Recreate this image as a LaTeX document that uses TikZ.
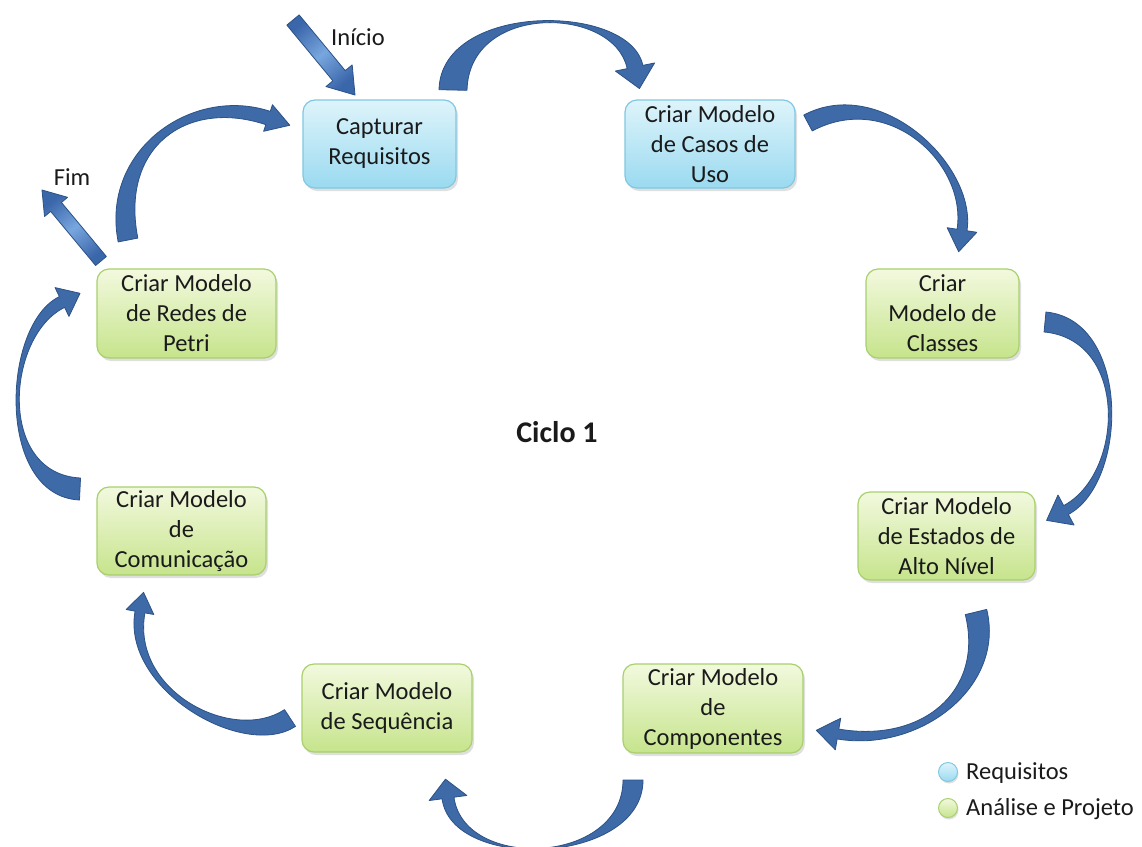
\documentclass[tikz,border=0pt]{standalone}
\usepackage{fontspec}
\setmainfont{Carlito}
\usetikzlibrary{calc,shadows}

\definecolor{arrowblue}{RGB}{62,106,168}
\definecolor{arrowedge}{RGB}{44,82,134}
\definecolor{stlight}{RGB}{120,166,222}
\definecolor{stdark}{RGB}{58,102,170}
\definecolor{reqtop}{RGB}{222,244,251}
\definecolor{reqbot}{RGB}{154,218,240}
\definecolor{reqedge}{RGB}{128,200,226}
\definecolor{anatop}{RGB}{242,249,222}
\definecolor{anabot}{RGB}{198,228,140}
\definecolor{anaedge}{RGB}{168,208,108}
\definecolor{ink}{RGB}{26,26,26}

% Curved block arrow with a tapering band.
% #1 tail centre, #2 first control, #3 second control, #4 head base centre,
% #5 half width at tail, #6 half width at head, #7 head half width, #8 head length
\newcommand\bandarrow[8]{%
  \path[bandstyle]
    ($#1!#5pt!90:#2$) .. controls ($#2!#5pt!-90:#1$) and ($#3!#6pt!90:#4$) .. ($#4!#6pt!-90:#3$)
    -- ($#4!#7pt!-90:#3$) -- ($#4!#8pt!180:#3$) -- ($#4!#7pt!90:#3$)
    -- ($#4!#6pt!90:#3$) .. controls ($#3!#6pt!-90:#4$) and ($#2!#5pt!90:#1$) .. ($#1!#5pt!-90:#2$)
    -- cycle;}

% Straight block arrow: #1 tail, #2 tip, #3 shaft half width, #4 head half width,
% #5 head length, #6 shading angle
\newcommand\straightblock[6]{%
  \coordinate (hb) at ($#2!#5pt!#1$);
  \path[straightstyle, shading angle=#6]
    ($#1!#3pt!90:#2$) -- ($(hb)!#3pt!90:#2$) -- ($(hb)!#4pt!90:#2$) -- #2
    -- ($(hb)!#4pt!-90:#2$) -- ($(hb)!#3pt!-90:#2$) -- ($#1!#3pt!-90:#2$) -- cycle;}

\tikzset{
  bandstyle/.style={fill=arrowblue, draw=arrowedge, line width=0.8pt, line join=round},
  straightstyle/.style={left color=stdark, right color=stdark, middle color=stlight,
    draw=arrowedge, line width=0.8pt, line join=round},
  boxbase/.style={rectangle, rounded corners=12pt, line width=1.2pt, align=center,
    text=ink, inner sep=0pt, font=\fontsize{24.5}{30}\selectfont,
    drop shadow={shadow xshift=2pt, shadow yshift=-3pt, opacity=0.25}},
  reqbox/.style={boxbase, draw=reqedge, top color=reqtop, bottom color=reqbot},
  anabox/.style={boxbase, draw=anaedge, top color=anatop, bottom color=anabot},
  label/.style={text=ink, inner sep=0pt, font=\fontsize{24.5}{30}\selectfont},
  dotreq/.style={circle, minimum size=19pt, inner sep=0pt, draw=reqedge, line width=1pt,
    top color=reqtop, bottom color=reqbot,
    drop shadow={shadow xshift=1pt, shadow yshift=-2pt, opacity=0.25}},
  dotana/.style={circle, minimum size=19pt, inner sep=0pt, draw=anaedge, line width=1pt,
    top color=anatop, bottom color=anabot,
    drop shadow={shadow xshift=1pt, shadow yshift=-2pt, opacity=0.25}}
}

\begin{document}
\begin{tikzpicture}[x=1pt, y=-1pt]
\useasboundingbox[fill=white] (0,0) rectangle (1142,846);

% process steps
\node[reqbox, minimum width=153pt, minimum height=88pt] (cap)  at (379.5,144) {Capturar\\Requisitos};
\node[reqbox, minimum width=170pt, minimum height=88pt] (uso)  at (710,144)   {Criar Modelo\\de Casos de\\Uso};
\node[anabox, minimum width=153pt, minimum height=89pt] (cla)  at (942.5,313.5) {Criar\\Modelo de\\Classes};
\node[anabox, minimum width=177pt, minimum height=88pt] (est)  at (946.5,536) {Criar Modelo\\de Estados de\\Alto Nível};
\node[anabox, minimum width=180pt, minimum height=89pt] (cmp)  at (713,708.5) {Criar Modelo\\de\\Componentes};
\node[anabox, minimum width=170pt, minimum height=88pt] (seq)  at (387,708)   {Criar Modelo\\de Sequência};
\node[anabox, minimum width=169pt, minimum height=88pt] (comu) at (181.5,531) {Criar Modelo\\de\\Comunicação};
\node[anabox, minimum width=179pt, minimum height=89pt] (pet)  at (186.5,313.5) {Criar Modelo\\de Redes de\\Petri};

% cycle arrows
\bandarrow{(453,90)}{(455,2)}{(622,4)}{(635,67)}{14}{8}{20}{22}
\bandarrow{(808,123)}{(885,82)}{(972,165)}{(962,230)}{9}{5}{15}{22}
\bandarrow{(1045,322)}{(1130,330)}{(1126,478)}{(1066,510)}{10}{5}{17}{22}
\bandarrow{(976,612)}{(995,690)}{(920,748)}{(838,734)}{11}{5}{16}{22}
\bandarrow{(633,780)}{(633,865)}{(458,872)}{(448,798)}{10}{6}{19}{19}
\bandarrow{(290,718)}{(238,752)}{(126,690)}{(140,612)}{10}{5}{14}{20}
\bandarrow{(80,489)}{(-4,485)}{(4,330)}{(62,302)}{11}{6}{16}{20}
\bandarrow{(128,240)}{(110,148)}{(190,92)}{(268,118)}{10}{7}{14}{23}

% start and end arrows
\straightblock{(293,20)}{(355,95)}{8}{17}{25}{41}
\straightblock{(101,261)}{(42,190)}{7}{15}{22}{39}
\node[label] (ini) at (358,37) {Início};
\node[label] (fim) at (72,177) {Fim};

% centre title
\node[text=ink, inner sep=0pt, font=\bfseries\fontsize{30}{36}\selectfont] (ciclo) at (557,432) {Ciclo 1};

% legend
\node[dotreq] (lreq) at (948,772) {};
\node[dotana] (lana) at (948,808) {};
\node[label, anchor=west] (treq) at (966,773) {Requisitos};
\node[label, anchor=west] (tana) at (966,809) {Análise e Projeto};
\end{tikzpicture}
\end{document}
